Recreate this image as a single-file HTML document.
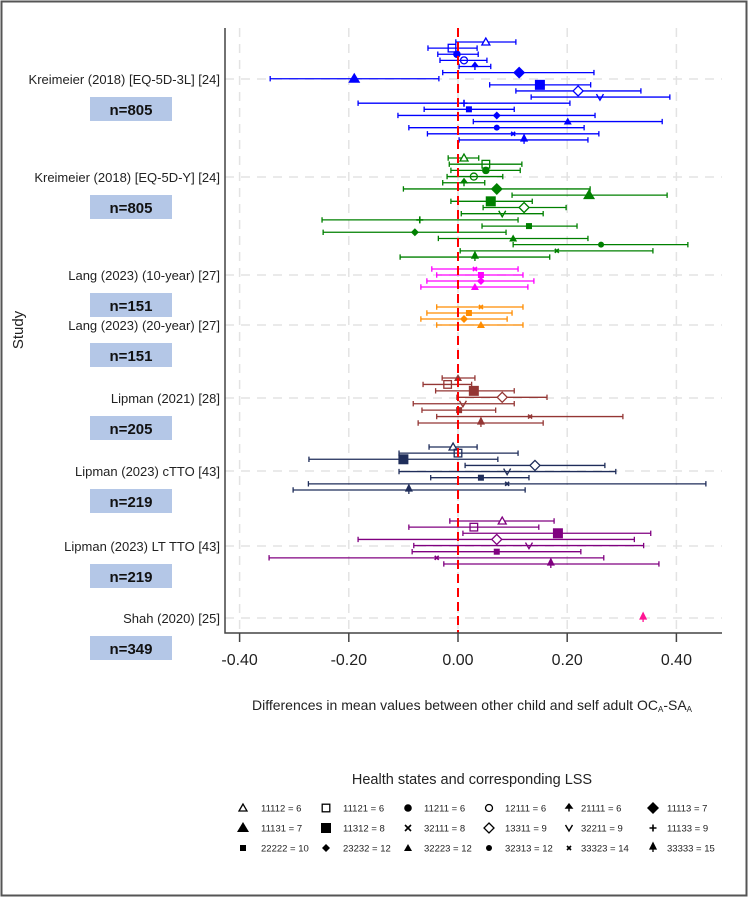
<!DOCTYPE html>
<html><head><meta charset="utf-8">
<style>
html,body{margin:0;padding:0;background:#fff;}
body{width:749px;height:898px;overflow:hidden;font-family:"Liberation Sans",Arial,sans-serif;}
svg{display:block;}
</style></head>
<body>
<svg id="chart" width="749" height="898" viewBox="0 0 749 898" xmlns="http://www.w3.org/2000/svg">
<rect x="1.5" y="1.5" width="745" height="894" fill="#fff" stroke="#555" stroke-width="2"/>
<g id="grid"></g>
<g id="marks"></g>
<g id="axes"></g>
<g id="labels"></g>
<text x="0" y="0" transform="translate(23,330) rotate(-90)" text-anchor="middle" font-size="15" fill="#222">Study</text>
<text x="472" y="710" text-anchor="middle" font-size="14" fill="#222">Differences in mean values between other child and self adult OC<tspan font-size="8" dy="2">A</tspan><tspan dy="-2">-SA</tspan><tspan font-size="8" dy="2">A</tspan></text>
<text x="472" y="784" text-anchor="middle" font-size="14.5" fill="#222">Health states and corresponding LSS</text>
<g id="legend"></g>
</svg>
<script>
const xTicks = [-0.4, -0.2, 0, 0.2, 0.4];
const xTickLabels = ["-0.40", "-0.20", "0.00", "0.20", "0.40"];
const studyNames = ["Kreimeier (2018) [EQ-5D-3L] [24]","Kreimeier (2018) [EQ-5D-Y] [24]","Lang (2023) (10-year) [27]","Lang (2023) (20-year) [27]","Lipman (2021) [28]","Lipman (2023) cTTO [43]","Lipman (2023) LT TTO [43]","Shah (2020) [25]"];
const sampleSizes = ["n=805","n=805","n=151","n=151","n=205","n=219","n=219","n=349"];
const legendLabels = ["11112 = 6","11121 = 6","11211 = 6","12111 = 6","21111 = 6","11113 = 7","11131 = 7","11312 = 8","32111 = 8","13311 = 9","32211 = 9","11133 = 9","22222 = 10","23232 = 12","32223 = 12","32313 = 12","33323 = 14","33333 = 15"];
const legendMarkers = ["triO","sqO","circ","circO","arrow","diaB","triB","sqB","x","diaO","v","plus","sqS","diaS","triS","circS","xS","arrowS"];

const k3Markers = ["triO","sqO","circ","circO","arrow","diaB","triB","sqB","diaO","v","plus","sqS","diaS","triS","circS","xS","arrowS"];
const k3Mean = [0.051,-0.011,-0.002,0.011,0.031,0.112,-0.19,0.150,0.220,0.260,0.011,0.020,0.071,0.201,0.071,0.101,0.121];
const k3Lo = [-0.004,-0.055,-0.037,-0.033,0.002,-0.028,-0.344,0.058,0.106,0.134,-0.183,-0.062,-0.110,0.028,-0.090,-0.056,0.002];
const k3Hi = [0.106,0.035,0.037,0.053,0.060,0.249,-0.035,0.243,0.335,0.388,0.205,0.103,0.251,0.374,0.231,0.258,0.238];

const kyMarkers = ["triO","sqO","circ","circO","arrow","diaB","triB","sqB","diaO","v","plus","sqS","diaS","triS","circS","xS","arrowS"];
const kyMean = [0.011,0.051,0.051,0.029,0.011,0.071,0.240,0.060,0.121,0.081,-0.070,0.130,-0.079,0.101,0.262,0.181,0.031];
const kyLo = [-0.018,-0.016,-0.013,-0.020,-0.028,-0.100,0.099,-0.013,0.046,0.006,-0.249,0.044,-0.247,-0.036,0.101,0.004,-0.106];
const kyHi = [0.038,0.117,0.114,0.082,0.049,0.242,0.383,0.136,0.198,0.156,0.110,0.218,0.088,0.238,0.421,0.357,0.168];

const l10Markers = ["xS","sqS","diaS","triS"];
const l10Mean = [0.031,0.042,0.042,0.031];
const l10Lo = [-0.048,-0.039,-0.057,-0.068];
const l10Hi = [0.110,0.119,0.139,0.128];

const l20Markers = ["xS","sqS","diaS","triS"];
const l20Mean = [0.042,0.020,0.011,0.042];
const l20Lo = [-0.039,-0.057,-0.068,-0.039];
const l20Hi = [0.119,0.099,0.090,0.119];

const lp21Markers = ["triS","sqO","sqB","diaO","v","sqS","xS","arrowS"];
const lp21Mean = [0.000,-0.019,0.029,0.081,0.009,0.002,0.132,0.042];
const lp21Lo = [-0.029,-0.064,-0.041,-0.002,-0.082,-0.066,-0.039,-0.073];
const lp21Hi = [0.031,0.025,0.103,0.163,0.103,0.069,0.302,0.156];

const lpcMarkers = ["triO","sqO","sqB","diaO","v","sqS","xS","arrowS"];
const lpcMean = [-0.009,0.000,-0.100,0.141,0.090,0.042,0.090,-0.090];
const lpcLo = [-0.053,-0.108,-0.273,0.013,-0.108,-0.050,-0.274,-0.302];
const lpcHi = [0.035,0.110,0.073,0.269,0.289,0.130,0.454,0.123];

const lplMarkers = ["triO","sqO","sqB","diaO","v","sqS","xS","arrowS"];
const lplMean = [0.081,0.029,0.183,0.071,0.130,0.071,-0.039,0.170];
const lplLo = [-0.015,-0.090,0.009,-0.183,-0.081,-0.084,-0.346,-0.026];
const lplHi = [0.176,0.148,0.353,0.323,0.340,0.225,0.267,0.368];

const shMarkers = ["arrowS"];
const shMean = [0.339];
const shLo = [null];
const shHi = [null];

// layout (not data)
const X0 = 458, PXU = 546, AX_LEFT = 225, AX_TOP = 28, AX_BOT = 633, GRID_RIGHT = 722;
const studyY = [79,177,275,325,398,471,546,618];
const series = [
 {m:k3Markers,mean:k3Mean,lo:k3Lo,hi:k3Hi,color:"#0000ff",y0:42,step:6.12},
 {m:kyMarkers,mean:kyMean,lo:kyLo,hi:kyHi,color:"#008000",y0:158,step:6.19},
 {m:l10Markers,mean:l10Mean,lo:l10Lo,hi:l10Hi,color:"#ff00ff",y0:269,step:6},
 {m:l20Markers,mean:l20Mean,lo:l20Lo,hi:l20Hi,color:"#ff8c00",y0:307,step:6},
 {m:lp21Markers,mean:lp21Mean,lo:lp21Lo,hi:lp21Hi,color:"#943634",y0:378,step:6.43},
 {m:lpcMarkers,mean:lpcMean,lo:lpcLo,hi:lpcHi,color:"#1f2d5a",y0:447,step:6.14},
 {m:lplMarkers,mean:lplMean,lo:lplLo,hi:lplHi,color:"#800080",y0:521,step:6.14},
 {m:shMarkers,mean:shMean,lo:shLo,hi:shHi,color:"#ff1493",y0:618,step:6}
];
const NS="http://www.w3.org/2000/svg";
function xs(v){return X0 + v*PXU;}
function mk(tag,attrs,parent){const e=document.createElementNS(NS,tag);for(const k in attrs)e.setAttribute(k,attrs[k]);parent.appendChild(e);return e;}

const grid=document.getElementById('grid'), axes=document.getElementById('axes'), marks=document.getElementById('marks'), labels=document.getElementById('labels'), legend=document.getElementById('legend');

xTicks.forEach(t=>{
  const l=mk('line',{x1:xs(t),x2:xs(t),y1:AX_TOP,y2:AX_BOT,stroke:"#e3e3e3","stroke-width":1.5,"stroke-dasharray":"9,7"},grid);
  
  
});
studyY.forEach(y=>{
  const l=mk('line',{x1:AX_LEFT,x2:GRID_RIGHT,y1:y,y2:y,stroke:"#e3e3e3","stroke-width":1.5,"stroke-dasharray":"9,7"},grid);
  
  
});

function drawMarker(g,type,x,y,c){
  let e;
  switch(type){
    case "triO": e=mk('polygon',{points:`${x},${y-4} ${x-4},${y+3} ${x+4},${y+3}`,fill:"#fff",stroke:c,"stroke-width":1.3},g);break;
    case "triB": e=mk('polygon',{points:`${x},${y-6} ${x-6},${y+4} ${x+6},${y+4}`,fill:c},g);break;
    case "triS": e=mk('polygon',{points:`${x},${y-4} ${x-4},${y+3} ${x+4},${y+3}`,fill:c},g);break;
    case "sqO": e=mk('rect',{x:x-3.8,y:y-3.8,width:7.6,height:7.6,fill:"none",stroke:c,"stroke-width":1.3},g);break;
    case "sqB": e=mk('rect',{x:x-5,y:y-5,width:10,height:10,fill:c},g);break;
    case "sqS": e=mk('rect',{x:x-3,y:y-3,width:6,height:6,fill:c},g);break;
    case "circ": e=mk('circle',{cx:x,cy:y,r:3.8,fill:c},g);break;
    case "circO": e=mk('circle',{cx:x,cy:y,r:3.5,fill:"none",stroke:c,"stroke-width":1.3},g);break;
    case "circS": e=mk('circle',{cx:x,cy:y,r:3,fill:c},g);break;
    case "diaB": e=mk('polygon',{points:`${x},${y-6} ${x+6},${y} ${x},${y+6} ${x-6},${y}`,fill:c},g);break;
    case "diaO": e=mk('polygon',{points:`${x},${y-5} ${x+5},${y} ${x},${y+5} ${x-5},${y}`,fill:"#fff",stroke:c,"stroke-width":1.3},g);break;
    case "diaS": e=mk('polygon',{points:`${x},${y-4} ${x+4},${y} ${x},${y+4} ${x-4},${y}`,fill:c},g);break;
    case "v": e=mk('polyline',{points:`${x-3.5},${y-3} ${x},${y+3} ${x+3.5},${y-3}`,fill:"none",stroke:c,"stroke-width":1.4},g);break;
    case "plus": e=mk('path',{d:`M${x-3.5},${y}H${x+3.5}M${x},${y-3.5}V${y+3.5}`,stroke:c,"stroke-width":1.6},g);break;
    case "x": e=mk('path',{d:`M${x-3},${y-3}L${x+3},${y+3}M${x+3},${y-3}L${x-3},${y+3}`,stroke:c,"stroke-width":1.6},g);break;
    case "xS": e=mk('path',{d:`M${x-2},${y-2}L${x+2},${y+2}M${x+2},${y-2}L${x-2},${y+2}`,stroke:c,"stroke-width":1.6},g);break;
    case "arrow": e=mk('path',{d:`M${x},${y+3.5}V${y-1}M${x-3},${y}L${x},${y-4}L${x+3},${y}Z`,stroke:c,fill:c,"stroke-width":1.4},g);break;
    case "arrowS": e=mk('path',{d:`M${x},${y+4}V${y-1}M${x-3},${y+1}L${x},${y-5}L${x+3},${y+1}Z`,stroke:c,fill:c,"stroke-width":1.3},g);break;
  }
  return e;
}

series.forEach((s,si)=>{
  const g=mk('g',{},marks);
  
  
  s.mean.forEach((v,i)=>{
    const y=s.y0+i*s.step;
    if(s.lo[i]!==null){
      const ci=mk('path',{d:`M${xs(s.lo[i])},${y}H${xs(s.hi[i])}M${xs(s.lo[i])},${y-2.7}V${y+2.7}M${xs(s.hi[i])},${y-2.7}V${y+2.7}`,stroke:s.color,"stroke-width":1.3,fill:"none"},g);
      
      
    }
    const p=drawMarker(g,s.m[i],xs(v),y,s.color);
    
    
  });
});

const zl=mk('line',{x1:xs(0),x2:xs(0),y1:AX_TOP,y2:AX_BOT,stroke:"#ff0000","stroke-width":2,"stroke-dasharray":"9,5"},axes);


const al=mk('path',{d:`M${AX_LEFT},${AX_TOP}V${AX_BOT}H${GRID_RIGHT}`,stroke:"#444","stroke-width":1.5,fill:"none"},axes);


xTicks.forEach((t,i)=>{
  const tk=mk('line',{x1:xs(t),x2:xs(t),y1:AX_BOT,y2:AX_BOT+9,stroke:"#444","stroke-width":1.5},axes);
  
  
  const tl=mk('text',{x:xs(t),y:AX_BOT+32,"text-anchor":"middle","font-size":16,fill:"#222"},axes);
  tl.textContent=xTickLabels[i];
  
  
});

studyNames.forEach((n,i)=>{
  const y=studyY[i];
  const t=mk('text',{x:220,y:y+5,"text-anchor":"end","font-size":13,fill:"#222"},labels);
  t.textContent=n;
  
  
  const r=mk('rect',{x:90,y:y+18,width:82,height:24,fill:"#b4c7e7"},labels);
  
  
  const nt=mk('text',{x:131,y:y+36,"text-anchor":"middle","font-size":15,"font-weight":"bold",fill:"#111"},labels);
  nt.textContent=sampleSizes[i];
  
  
});

const legSymX=[243,326,408,489,569,653], legTxtX=[261,343,424,505,581,667], legRowY=[808,828,848];
legendLabels.forEach((lab,i)=>{
  const r=Math.floor(i/6), c=i%6;
  const g=mk('g',{},legend);
  
  
  drawMarker(g,legendMarkers[i],legSymX[c],legRowY[r],"#000");
  const t=mk('text',{x:legTxtX[c],y:legRowY[r]+3.5,"font-size":9.5,fill:"#222"},g);
  t.textContent=lab;
});
</script>
</body></html>
